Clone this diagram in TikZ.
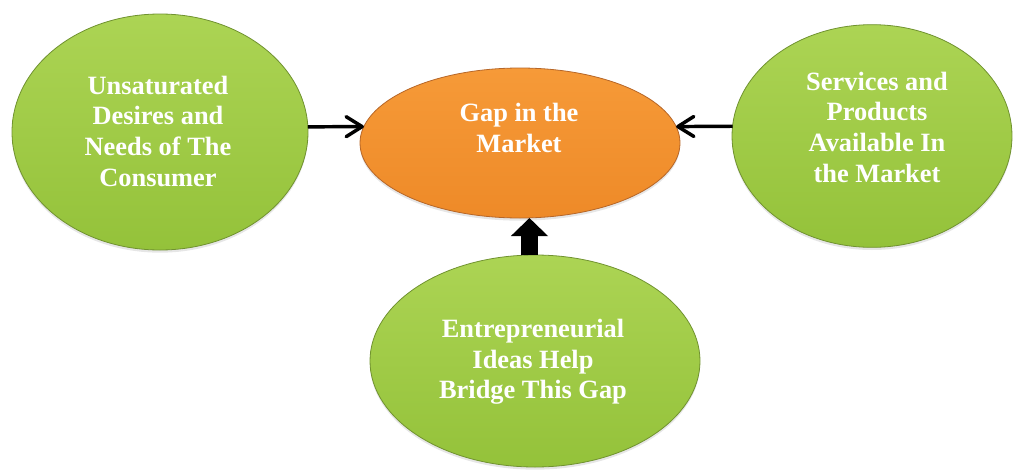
\documentclass[tikz,border=0pt]{standalone}
\usepackage{fontspec}
\setmainfont{Liberation Serif}
\usetikzlibrary{shapes.geometric,arrows.meta,shadows}

\definecolor{leafgreen}{RGB}{148,194,58}
\definecolor{leafgreenlt}{RGB}{172,212,84}
\definecolor{leafgreendk}{RGB}{112,146,48}
\definecolor{gaporange}{RGB}{238,138,40}
\definecolor{gaporangelt}{RGB}{246,154,56}
\definecolor{gaporangedk}{RGB}{182,102,40}

\tikzset{every picture/.style={line width=0.75pt}}
\tikzset{
  bubble/.style={ellipse, inner sep=0pt, outer sep=0pt, draw=leafgreendk, line width=0.6pt,
    top color=leafgreenlt, bottom color=leafgreen,
    drop shadow={opacity=0.2, shadow xshift=0pt, shadow yshift=-2pt}},
  gapbubble/.style={bubble, draw=gaporangedk, top color=gaporangelt, bottom color=gaporange},
  bubbletext/.style={text=white, align=center, font=\fontsize{19.8pt}{23pt}\selectfont\bfseries},
  feed/.style={line width=2.6pt, -{Straight Barb[length=12pt,width=15pt,line width=2.6pt,round]}},
  bridge/.style={line width=12.75pt, -{Triangle[length=13.5pt,width=27pt]}},
}

\begin{document}
\begin{tikzpicture}[x=0.75pt,y=0.75pt,yscale=-1,xscale=1]
	\useasboundingbox (0,0) rectangle (1013,471);

	%Shape: Ellipse
	\node[bubble, minimum width=222pt, minimum height=177pt] (uns) at (160,132) {};
	%Shape: Ellipse
	\node[gapbubble, minimum width=240pt, minimum height=112.5pt] (gap) at (520,143) {};
	%Shape: Ellipse
	\node[bubble, minimum width=210pt, minimum height=167pt] (avail) at (872,136) {};
	%Shape: Ellipse
	\node[bubble, minimum width=247.5pt, minimum height=159pt] (idea) at (535,361) {};

	%Straight Lines
	\draw[feed] (uns.2) -- (gap.174);
	%Straight Lines
	\draw[feed] (avail.176) -- (gap.6);
	%Block Arrow
	\draw[bridge] (idea.93) -- (idea.93 |- gap.south);

	% Text Node
	\node[bubbletext] (unsText) at (158,131) {Unsaturated\\Desires and\\Needs of The\\Consumer};
	% Text Node
	\node[bubbletext] (gapText) at (519,128) {Gap in the\\Market};
	% Text Node
	\node[bubbletext] (availText) at (877,127) {Services and\\Products\\Available In\\the Market};
	% Text Node
	\node[bubbletext] (ideaText) at (533,362) {Entrepreneurial\\Ideas Help\\Bridge This Gap};

\end{tikzpicture}
\end{document}
